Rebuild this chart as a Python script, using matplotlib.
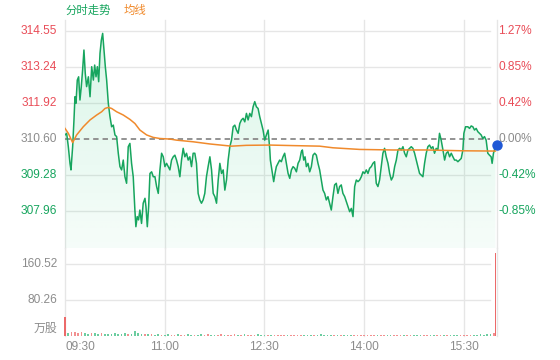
import numpy as np
import matplotlib.pyplot as plt

plt.rcParams['font.family'] = ['Liberation Sans', 'Noto Sans CJK SC', 'DejaVu Sans']

# ===== 数据 =====
# 距 09:30 的分钟数
t_min = [0, 1.5, 3.0, 4.5, 5.4, 6.9, 8.1, 9.0, 9.9, 11.1, 12.3, 13.5, 14.7, 15.9, 17.1, 18.3, 19.5,
         21.1, 22.6, 24.1, 25.6, 26.8, 28.0, 29.2, 30.4, 31.6, 32.8, 34.0, 35.2, 36.4, 37.6, 39.1,
         40.6, 42.1, 43.6, 45.1, 46.6, 48.1, 49.6, 51.1, 52.6, 54.1, 55.6, 57.1, 58.6, 60.1, 61.6,
         63.1, 64.0, 65.2, 66.4, 67.6, 69.1, 70.6, 72.2, 73.1, 74.3, 75.5, 76.7, 78.2, 79.7, 81.2,
         82.7, 84.2, 85.7, 87.2, 88.7, 90.2, 91.7, 94.7,
         96.2, 97.7, 99.2, 100.7, 102.2, 103.7, 105.2, 106.7, 108.2, 109.7, 111.2, 112.7, 114.2,
         115.7, 117.2, 118.7, 120.2, 121.7, 123.2, 124.7, 126.2, 127.7, 129.2, 130.8, 132.3, 133.8,
         135.3, 136.8, 138.3, 139.8, 141.3, 142.8, 144.3, 145.8, 147.3, 148.8, 150.3, 151.8, 153.3,
         154.8, 156.3, 157.8, 159.3, 160.8, 162.3, 163.8, 165.3, 166.8, 168.3, 169.8, 171.3, 172.8,
         174.3, 175.8, 177.3, 178.8, 180.3, 181.8, 183.4, 184.9,
         185.4, 187.2, 188.4, 189.6, 190.8, 192.3, 193.8, 195.3, 196.8, 198.3, 199.8, 201.4, 202.9,
         204.4, 205.9, 207.4, 208.9, 210.4, 211.9, 213.4, 214.3, 215.5, 216.7, 217.9, 219.4, 220.9,
         222.4, 223.9, 225.4, 226.9, 228.4, 229.9, 231.4, 232.9, 234.4, 235.9, 237.4, 238.9, 240.4,
         241.9, 243.4, 244.9, 246.4, 247.9, 249.4, 250.9, 252.5, 254.0, 255.5, 257.0, 258.5, 260.0,
         261.5, 263.0, 264.5, 266.0, 267.5, 269.0, 270.5, 272.0, 273.5, 275.0,
         276.5, 278.0, 279.5, 281.0, 282.5, 284.0, 285.5, 287.0, 288.5, 290.0, 291.6, 293.1, 294.6,
         296.1, 297.6, 299.1, 300.6, 302.1, 303.6, 305.1, 306.6, 308.1, 309.6, 311.1, 312.6, 314.1,
         315.6, 317.1, 318.6, 320.1, 321.6, 323.1, 324.6, 326.1, 327.6, 329.1, 330.6, 332.1, 333.6,
         335.1, 336.6, 338.1, 339.6, 341.2, 342.7, 344.2, 345.7, 347.2, 348.7, 350.2, 351.7, 353.2,
         354.7, 356.2, 357.7, 359.2, 360.1, 361.6, 363.7, 365.2, 366.7, 368.2, 369.7, 371.2, 372.7,
         374.2, 375.7, 377.2, 378.7, 380.2, 381.7, 383.2, 384.7, 385.6, 386.8, 387.7, 388.6]
price = [310.75, 310.81, 310.32, 309.71, 309.47, 310.32, 311.30, 312.15, 311.91, 312.76, 312.88,
         312.03, 312.52, 313.13, 313.86, 313.00, 312.52, 312.88, 312.15, 313.25, 312.76, 313.31,
         312.88, 313.25, 312.70, 313.74, 314.22, 314.47, 313.86, 313.25, 312.76, 311.91, 311.42,
         311.05, 311.11, 310.75, 310.69, 310.08, 309.59, 309.47, 309.83, 309.22, 308.98, 310.32,
         310.44, 309.71, 309.22, 308.00, 307.39, 307.76, 307.64, 308.00, 307.51, 308.25, 308.43,
         308.12, 307.39, 308.12, 309.34, 309.40, 309.22, 309.22, 308.86, 308.61, 309.47, 310.08,
         309.95, 309.59, 309.71, 309.47,
         309.83, 309.95, 310.01, 309.83, 309.59, 309.22, 309.83, 310.26, 309.95, 310.08, 309.83,
         309.95, 309.59, 310.08, 310.08, 309.71, 308.61, 308.37, 308.25, 308.37, 308.61, 309.22,
         309.59, 309.95, 309.47, 308.61, 308.49, 308.25, 309.10, 309.71, 309.34, 309.47, 308.73,
         309.10, 309.83, 310.32, 310.56, 311.05, 311.11, 310.93, 310.81, 311.17, 311.30, 311.36,
         311.23, 311.54, 311.30, 311.54, 311.42, 311.78, 311.97, 311.78, 311.72, 311.42, 311.17,
         310.93, 310.56, 310.75, 310.93, 310.20,
         309.83, 309.34, 309.04, 309.34, 309.59, 309.71, 309.83, 309.77, 309.95, 310.08, 309.71,
         309.34, 309.16, 309.47, 309.59, 309.53, 309.40, 309.71, 309.83, 310.14, 310.20, 309.83,
         309.95, 309.59, 309.71, 309.40, 309.59, 310.01, 310.08, 310.01, 309.71, 309.47, 309.10,
         308.73, 308.61, 308.37, 308.49, 308.25, 308.00, 308.49, 308.92, 308.98, 308.61, 308.86,
         308.92, 308.61, 308.49, 308.31, 308.12, 307.94, 308.06, 307.76, 308.86, 309.10, 309.04,
         309.10, 309.22, 309.40, 309.34, 309.47, 309.34, 309.53,
         309.59, 309.71, 309.77, 308.98, 308.86, 309.10, 309.59, 310.08, 310.26, 309.95, 309.71,
         309.34, 309.10, 309.22, 309.59, 309.83, 310.20, 310.26, 310.20, 310.32, 310.08, 309.95,
         310.20, 310.26, 310.32, 310.26, 310.08, 309.83, 309.59, 309.34, 309.28, 309.22, 309.71,
         310.08, 310.32, 310.38, 310.26, 310.32, 310.08, 310.26, 310.20, 310.81, 310.56, 310.20,
         309.83, 310.08, 310.14, 309.95, 310.08, 309.95, 309.83, 309.83, 309.77, 309.83, 309.89,
         310.20, 310.81, 311.05, 311.05, 310.99, 311.08, 311.05, 310.93, 310.99, 310.87, 310.81,
         310.75, 310.62, 310.69, 310.56, 310.08, 310.01, 309.95, 309.71, 310.08, 310.20, 310.38]

# 均价线
avg_t = [0, 3.0, 6.9, 10.5, 16.5, 22.6, 28.6, 33.1, 36.1, 39.1, 42.1, 46.6, 52.6, 58.6, 63.1,
         67.6, 73.7, 79.7, 85.7, 94.7, 100.7, 115.7, 130.8, 150.3, 163.8, 184.9, 205.9, 229.9,
         241.9, 266.0, 296.1, 326.1, 359.2, 388.6]
avg_price = [310.99, 310.81, 310.47, 310.75, 311.05, 311.30, 311.48, 311.60, 311.72, 311.76,
             311.72, 311.60, 311.48, 311.32, 311.17, 310.93, 310.75, 310.66, 310.62, 310.60,
             310.56, 310.50, 310.42, 310.34, 310.37, 310.38, 310.36, 310.34, 310.28, 310.22,
             310.20, 310.20, 310.17, 310.16]

# 成交量（万股），每3分钟一根，最后一根为收盘
vol_t = list(range(0, 390, 3)) + [389]
volume = [42, 7, 9, 8, 6, 8, 7, 5, 6, 7,
          5, 6, 5, 4, 5, 6, 4, 5, 6, 5,
          4, 11, 6, 5, 4, 5, 4, 3, 4, 3,
          3, 4, 3, 2, 4, 3, 3, 4, 2, 3,
          3, 5, 3, 4, 3, 2, 3, 4, 3, 2,
          3, 4, 3, 3, 5, 3, 2, 3, 4, 3,
          2, 3, 2, 3, 2, 3, 2, 2, 3, 2,
          2, 3, 2, 2, 3, 2, 2, 4, 2, 2,
          2, 3, 2, 2, 3, 2, 3, 2, 2, 3,
          3, 2, 2, 3, 2, 3, 2, 2, 3, 2,
          2, 3, 2, 2, 3, 2, 2, 3, 2, 2,
          3, 2, 2, 3, 2, 2, 3, 2, 2, 3,
          3, 2, 3, 2, 3, 4, 3, 5, 4, 6,
          186]

base_price = 310.60
price_ticks = [307.96, 309.28, 310.60, 311.92, 313.24, 314.55]
vol_ticks = [80.26, 160.52]
time_ticks = [0, 90, 180, 270, 360]
time_labels = ['09:30', '11:00', '12:30', '14:00', '15:30']

# ===== 颜色 =====
GREEN = '#17a55e'
ORANGE = '#f08a2c'
RED = '#e94d58'
GRAY = '#8c8c8c'
GRID = '#e6e6e6'

W, H = 560, 360
fig = plt.figure(figsize=(W / 100, H / 100), dpi=100)
ax = fig.add_axes([65 / W, 1 - 248 / H, 432 / W, 228 / H])
axv = fig.add_axes([65 / W, 24 / H, 432 / W, 88 / H])

t_arr = np.array(t_min)
p_arr = np.array(price)
y_lo, y_hi = 306.61, 314.96

for a in (ax, axv):
    a.set_xlim(0, 390)
    a.axis('off')
    for xv in time_ticks + [390]:
        a.axvline(xv, color=GRID, lw=1, zorder=0, clip_on=False)

ax.set_ylim(y_lo, y_hi)
axv.set_ylim(0, 196.2)

# ---- 价格面板 ----
for p in price_ticks:
    if p == base_price:
        ax.axhline(p, xmax=0.984, color='#8a8a8a', lw=1.3, ls=(0, (3, 2.2)), zorder=3)
    else:
        ax.axhline(p, xmax=0.984, color=GRID, lw=1, zorder=0)
    col = RED if p > base_price else (GREEN if p < base_price else GRAY)
    pct = (p / base_price - 1) * 100
    ax.text(-0.0185, p, f'{p:.2f}', transform=ax.get_yaxis_transform(),
            ha='right', va='center', fontsize=8.6, color=col)
    ax.text(1.003, p, f'{pct:.2f}%', transform=ax.get_yaxis_transform(),
            ha='left', va='center', fontsize=8.6, color=col)

# 渐变填充
poly = ax.fill_between(t_arr, p_arr, y_lo, color='none', lw=0)
grad = np.zeros((256, 1, 4))
grad[..., 0] = 0x17 / 255
grad[..., 1] = 0xc5 / 255
grad[..., 2] = 0x70 / 255
grad[..., 3] = np.linspace(0.16, 0.04, 256).reshape(-1, 1)
img = ax.imshow(grad, extent=[0, 390, y_lo, p_arr.max()], aspect='auto',
                origin='upper', zorder=1)
img.set_clip_path(poly.get_paths()[0], transform=ax.transData)
ax.set_xlim(0, 390)
ax.set_ylim(y_lo, y_hi)

ax.plot(t_arr, p_arr, color=GREEN, lw=1.1, zorder=4)
ax.plot(avg_t, avg_price, color=ORANGE, lw=1.1, zorder=4)
ax.plot(t_arr[-1] + 1.2, p_arr[-1], 'o', color='#1f58d6', ms=6.5, zorder=6, clip_on=False)

# ---- 成交量面板 ----
for v in vol_ticks:
    axv.axhline(v, xmax=0.984, color=GRID, lw=1, zorder=0)
    axv.text(-0.0185, v, f'{v:.2f}', transform=axv.get_yaxis_transform(),
             ha='right', va='center', fontsize=8.6, color=GRAY)
axv.text(-0.0185, 0.08, '万股', transform=axv.transAxes,
         ha='right', va='center', fontsize=8.6, color=GRAY)

vol_colors = []
prev = base_price
for vt in vol_t:
    i = min(np.searchsorted(t_arr, vt), len(t_arr) - 1)
    vol_colors.append('#f29090' if p_arr[i] >= prev else '#6ccda0')
    prev = p_arr[i]
vol_colors[0] = '#ec6a6a'
vol_colors[-1] = '#ec6a6a'
widths = [1.5] * (len(vol_t) - 1) + [1.0]
axv.bar(vol_t, volume, width=widths, color=vol_colors, align='center', zorder=2, clip_on=False)

for xt, lab in zip(time_ticks, time_labels):
    axv.text(xt, -0.125, lab, transform=axv.get_xaxis_transform(),
             ha='left' if xt == 0 else 'center', va='center', fontsize=8.6, color=GRAY)

# 图例
fig.text(65 / W, 1 - 10 / H, '分时走势', ha='left', va='center', fontsize=8.2, color=GREEN)
fig.text(124 / W, 1 - 10 / H, '均线', ha='left', va='center', fontsize=8.2, color=ORANGE)

plt.savefig('out.png', dpi=100)
plt.close()
